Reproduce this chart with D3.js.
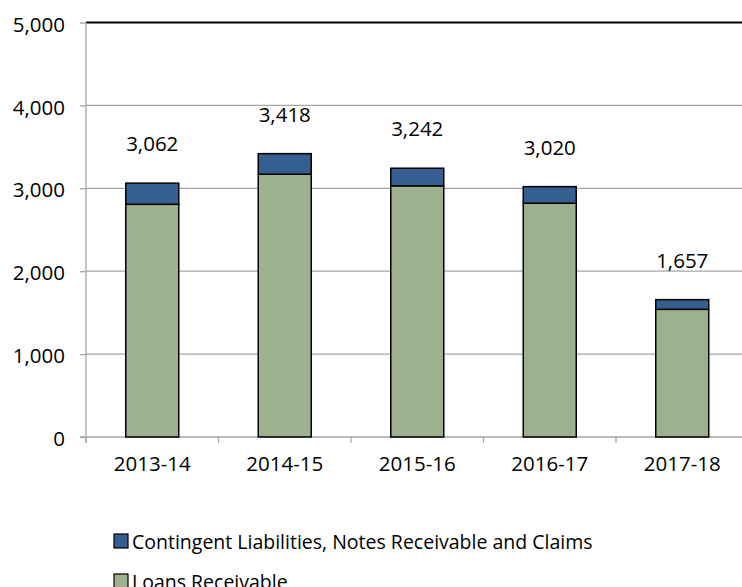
<!DOCTYPE html>
<html>
<head>
<meta charset="utf-8">
<script src="https://cdn.jsdelivr.net/npm/d3@7"></script>
<style>
  html, body { margin: 0; padding: 0; background: #fff; }
  svg { display: block; }
  text { font-family: "Open Sans", sans-serif; fill: #000; }
</style>
</head>
<body>
<svg id="chart" width="742" height="587"></svg>
<script>
// ---- data ----
const categories = ["2013-14", "2014-15", "2015-16", "2016-17", "2017-18"];
const loansReceivable = [2807, 3170, 3030, 2820, 1540];
const totals = [3062, 3418, 3242, 3020, 1657];
const contingent = totals.map((t, i) => t - loansReceivable[i]);
const yTicks = [0, 1000, 2000, 3000, 4000, 5000];
const seriesNames = ["Contingent Liabilities, Notes Receivable and Claims", "Loans Receivable"];

// ---- styles ----
const colors = { contingent: "#365F91", loans: "#9DB18F" };
const fontSize = 20.5;

const svg = d3.select("#chart");
const mLeft = 86, mRight = 748.5, mTop = 22.5, mBottom = 437;

const x = d3.scaleBand().domain(categories).range([mLeft, mRight])
  .paddingInner(0.6).paddingOuter(0.3);
const y = d3.scaleLinear().domain([0, 5000]).range([mBottom, mTop]);

// gridlines
svg.append("g").selectAll("line").data(yTicks.filter(d => d > 0)).join("line")
  .attr("x1", mLeft).attr("x2", 742)
  .attr("y1", d => y(d)).attr("y2", d => y(d))
  .attr("stroke", d => d === 5000 ? "#000" : "#a6a6a6")
  .attr("stroke-width", d => d === 5000 ? 2 : 1.3);

// y axis
const yAxis = svg.append("g").attr("transform", `translate(${mLeft},0)`)
  .call(d3.axisLeft(y).tickValues(yTicks).tickFormat(d3.format(",")).tickSize(6).tickPadding(15));
yAxis.select(".domain").remove();
yAxis.selectAll(".tick line").attr("stroke", "#a6a6a6").attr("stroke-width", 1.3);
yAxis.selectAll(".tick text").attr("font-size", fontSize).attr("font-family", "Open Sans").attr("dy", "0.42em").attr("fill", "#000");
svg.append("line").attr("x1", mLeft).attr("x2", mLeft).attr("y1", mTop).attr("y2", mBottom + 6)
  .attr("stroke", "#a6a6a6").attr("stroke-width", 1.3);

// x axis
svg.append("line").attr("x1", mLeft - 6).attr("x2", 742).attr("y1", mBottom).attr("y2", mBottom)
  .attr("stroke", "#a6a6a6").attr("stroke-width", 1.3);
const boundaries = categories.map(c => x(c) - x.step() * x.paddingInner() / 2).concat([mRight]);
svg.append("g").selectAll("line").data(boundaries).join("line")
  .attr("x1", d => d).attr("x2", d => d).attr("y1", mBottom).attr("y2", mBottom + 6)
  .attr("stroke", "#a6a6a6").attr("stroke-width", 1.3);
svg.append("g").selectAll("text").data(categories).join("text")
  .attr("x", d => x(d) + x.bandwidth() / 2).attr("y", mBottom + 34)
  .attr("text-anchor", "middle").attr("font-size", fontSize).text(d => d);

// bars
const stackData = categories.map((c, i) => ({ cat: c, loans: loansReceivable[i], contingent: contingent[i] }));
const stack = d3.stack().keys(["loans", "contingent"])(stackData);
svg.append("g").selectAll("g").data(stack).join("g")
  .attr("fill", s => colors[s.key])
  .selectAll("rect").data(s => s).join("rect")
  .attr("x", d => x(d.data.cat)).attr("width", x.bandwidth())
  .attr("y", d => y(d[1])).attr("height", d => y(d[0]) - y(d[1]))
  .attr("stroke", "#000").attr("stroke-width", 1.5);

// total labels
svg.append("g").selectAll("text").data(categories).join("text")
  .attr("x", d => x(d) + x.bandwidth() / 2)
  .attr("y", (d, i) => y(totals[i]) - 32)
  .attr("text-anchor", "middle").attr("font-size", fontSize)
  .text((d, i) => d3.format(",")(totals[i]));

// legend
const legend = svg.append("g");
const legendItems = [
  { name: seriesNames[0], color: colors.contingent },
  { name: seriesNames[1], color: colors.loans }
];
const lg = legend.selectAll("g").data(legendItems).join("g")
  .attr("transform", (d, i) => `translate(114,${534 + i * 40})`);
lg.append("rect").attr("width", 14).attr("height", 14)
  .attr("fill", d => d.color).attr("stroke", "#000").attr("stroke-width", 1.2);
lg.append("text").attr("x", 18).attr("y", 15).attr("font-size", 19.5).text(d => d.name);
</script>
</body>
</html>
